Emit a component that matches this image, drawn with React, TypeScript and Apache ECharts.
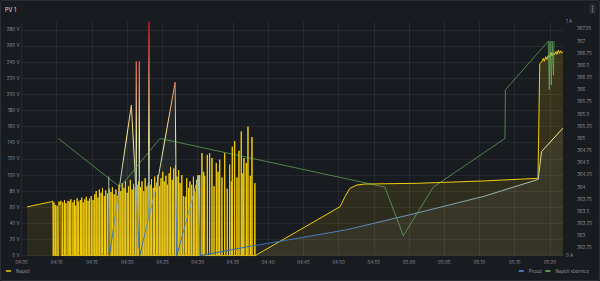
import React, { useEffect, useRef } from 'react';
import * as echarts from 'echarts';

// time in minutes since midnight (245 = 04:05)
const xTicks = [245, 250, 255, 260, 265, 270, 275, 280, 285, 290, 295, 300, 305, 310, 315, 320];
const voltTicks = [0, 20, 40, 60, 80, 100, 120, 140, 160, 180, 200, 220, 240, 260, 280];
const ampTicks = [0, 1];
const busTicks = [362.75, 363, 363.25, 363.5, 363.75, 364, 364.25, 364.5, 364.75, 365, 365.25, 365.5, 365.75, 366, 366.25, 366.5, 366.75, 367, 367.25];

const napeti: [number, number][] = [
  [245.8, 60.5], [246.6, 62], [247.4, 63.5], [248.2, 65], [248.9, 66.2], [249.3, 67], [249.45, 67.8], [249.5, 0],
  [249.57, 0], [249.6, 66], [249.63, 0], [249.77, 0], [249.8, 63], [249.83, 0], [250.02, 0], [250.05, 62], [250.08, 0],
  [250.27, 0], [250.3, 67], [250.45, 63], [250.6, 68], [250.63, 0], [250.82, 0], [250.85, 66], [250.88, 0], [251.07, 0], [251.1, 69], [251.13, 0],
  [251.27, 0], [251.3, 65], [251.33, 0], [251.57, 0], [251.6, 68], [251.63, 0], [251.77, 0], [251.8, 67], [251.83, 0], [251.97, 0], [252.0, 70], [252.03, 0],
  [252.27, 0], [252.3, 66], [252.33, 0], [252.47, 0], [252.5, 69], [252.53, 0], [252.67, 0], [252.7, 62], [252.73, 0], [252.87, 0], [252.9, 71], [252.93, 0],
  [253.07, 0], [253.1, 67], [253.13, 0], [253.32, 0], [253.35, 69], [253.38, 0], [253.52, 0], [253.55, 72], [253.58, 0], [253.72, 0], [253.75, 66], [253.78, 0],
  [253.97, 0], [254.0, 70], [254.03, 0], [254.17, 0], [254.2, 73], [254.23, 0], [254.42, 0], [254.45, 68], [254.48, 0], [254.62, 0], [254.65, 71], [254.68, 0],
  [254.87, 0], [254.9, 74], [254.93, 0], [255.12, 0], [255.15, 69], [255.18, 0],
  [255.37, 0], [255.4, 76], [255.43, 0], [255.57, 0], [255.6, 80], [255.63, 0], [255.82, 0], [255.85, 72], [255.88, 0], [256.02, 0], [256.05, 82], [256.08, 0],
  [256.27, 0], [256.3, 78], [256.33, 0], [256.47, 0], [256.5, 84], [256.53, 0], [256.72, 0], [256.75, 74], [256.78, 0], [256.92, 0], [256.95, 81], [256.98, 0],
  [257.17, 0], [257.2, 77], [257.23, 0], [257.42, 0], [257.45, 83], [257.48, 0], [257.67, 0], [257.7, 79], [257.73, 0], [257.87, 0], [257.9, 85], [257.93, 0],
  [258.12, 0], [258.15, 76], [258.18, 0], [258.37, 0], [258.4, 82], [258.43, 0], [258.57, 0], [258.6, 74], [258.63, 0],
  [258.82, 0], [258.85, 88], [258.88, 0], [259.07, 0], [259.1, 80], [259.13, 0], [259.27, 0], [259.3, 90], [259.33, 0], [259.52, 0], [259.55, 84], [259.58, 0],
  [259.72, 0], [259.75, 92], [259.78, 0], [259.97, 0], [260.0, 78], [260.03, 0], [260.17, 0], [260.2, 86], [260.23, 0], [260.42, 0], [260.45, 94], [260.48, 0],
  [260.67, 0], [260.7, 82], [260.73, 0], [260.87, 0], [260.9, 89], [260.93, 0], [261.12, 0], [261.15, 85], [261.18, 0], [261.37, 0], [261.4, 88], [261.43, 0],
  [261.57, 0], [261.6, 92], [261.63, 0], [261.87, 0], [261.9, 85], [261.93, 0], [262.07, 0], [262.1, 92], [262.13, 0], [262.32, 0], [262.35, 80], [262.38, 0],
  [262.52, 0], [262.55, 96], [262.58, 0], [262.77, 0], [262.8, 86], [262.83, 0], [262.97, 0], [263.0, 90], [263.03, 0],
  [263.22, 0], [263.25, 88], [263.28, 0], [263.42, 0], [263.45, 95], [263.48, 0], [263.67, 0], [263.7, 84], [263.73, 0], [263.87, 0], [263.9, 98], [263.93, 0],
  [264.12, 0], [264.15, 90], [264.18, 0], [264.32, 0], [264.35, 100], [264.38, 0], [264.57, 0], [264.6, 86], [264.63, 0], [264.77, 0], [264.8, 96], [264.83, 0],
  [265.02, 0], [265.05, 104], [265.08, 0], [265.22, 0], [265.25, 92], [265.28, 0], [265.47, 0], [265.5, 99], [265.53, 0], [265.67, 0], [265.7, 88], [265.73, 0],
  [265.92, 0], [265.95, 102], [265.98, 0], [266.12, 0], [266.15, 110], [266.18, 0], [266.37, 0], [266.4, 94], [266.43, 0], [266.57, 0], [266.6, 108], [266.63, 0],
  [266.82, 0], [266.85, 112], [266.88, 0], [267.02, 0], [267.05, 98], [267.08, 0], [267.27, 0], [267.3, 106], [267.33, 0], [267.47, 0], [267.5, 90], [267.53, 0],
  [267.72, 0], [267.75, 100], [267.78, 0], [267.97, 0], [268.0, 74], [268.03, 0], [268.22, 0], [268.25, 73], [268.28, 0], [268.42, 0], [268.45, 96], [268.48, 0],
  [268.67, 0], [268.7, 84], [268.73, 0], [268.87, 0], [268.9, 92], [268.93, 0], [269.12, 0], [269.15, 88], [269.18, 0], [269.37, 0], [269.4, 98], [269.43, 0],
  [269.57, 0], [269.6, 80], [269.63, 0], [269.82, 0], [269.85, 94], [269.88, 0], [270.02, 0], [270.05, 100], [270.08, 0],
  [270.26, 0], [270.29, 100], [270.32, 0], [270.58, 0], [270.61, 127], [270.64, 0], [270.83, 0], [270.86, 104], [270.89, 0], [270.97, 0], [271.0, 99], [271.03, 0],
  [271.34, 0], [271.37, 125], [271.4, 0], [271.67, 0], [271.7, 127], [271.73, 0], [272.0, 0], [272.03, 121], [272.06, 0], [272.29, 0], [272.32, 86], [272.35, 0],
  [272.62, 0], [272.65, 115], [272.68, 0], [272.87, 0], [272.9, 104], [272.93, 0], [273.1, 0], [273.13, 119], [273.16, 0], [273.42, 0], [273.45, 97], [273.48, 0],
  [273.81, 0], [273.84, 127], [273.87, 0], [274.17, 0], [274.2, 83], [274.23, 0], [274.51, 0], [274.54, 113], [274.57, 0], [274.75, 0], [274.78, 92], [274.81, 0],
  [274.89, 0], [274.92, 135], [274.95, 0], [275.22, 0], [275.25, 142], [275.28, 0], [275.55, 0], [275.58, 97], [275.61, 0], [275.83, 0], [275.86, 130], [275.89, 0],
  [276.16, 0], [276.19, 154], [276.22, 0], [276.39, 0], [276.42, 102], [276.45, 0], [276.54, 0], [276.57, 121], [276.6, 0], [276.87, 0], [276.9, 115], [276.93, 0],
  [277.11, 0], [277.14, 160], [277.17, 0], [277.44, 0], [277.47, 99], [277.5, 0], [277.68, 0], [277.71, 147], [277.74, 0], [278.09, 0], [278.12, 90], [278.15, 0],
  [290.2, 60.7], [290.9, 73], [291.6, 83.5], [292.6, 87.6], [293.7, 88.8], [301.1, 89.7], [310.5, 92.6], [318.3, 95.9],
  [318.55, 238], [318.82, 240], [319.05, 244.6], [319.2, 241], [319.4, 246.6], [319.55, 243], [319.76, 248], [319.9, 246], [320.0, 248.7], [320.15, 252],
  [320.3, 247.5], [320.5, 251.5], [320.65, 249], [320.85, 253], [321.0, 249.5], [321.18, 254.9], [321.35, 250.8], [321.5, 254], [321.66, 251], [321.84, 253],
];

const proud: [number, number][] = [
  [257.38, 0.338], [257.48, 0], [260.59, 0.644], [261.27, 0.27], [261.29, 0.83], [261.31, 0.26], [261.7, 0.03], [261.72, 0.83], [261.74, 0.02], [261.77, 0],
  [263.05, 0.16], [263.09, 1.0], [263.13, 0.17], [264.43, 0.338], [266.8, 0.741], [267.04, 0], [270.1, 0.338], [270.33, 0],
  [277.4, 0.04], [284.5, 0.076], [291.15, 0.111], [301.08, 0.182], [310.53, 0.253], [318.34, 0.326], [318.8, 0.445], [321.84, 0.545],
];

const sbernice: [number, number][] = [
  [250.22, 365], [258.98, 364], [264.65, 365], [296.58, 364], [299.18, 363], [303.44, 364], [313.61, 365], [313.68, 366], [319.76, 367],
  [319.9, 366], [320.0, 367], [320.2, 366.1], [320.3, 367], [320.5, 366.3], [320.58, 367],
];

const labelColor = 'rgba(204,204,220,0.68)';
const gridColor = 'rgba(204,204,220,0.08)';
const FONT = 'Inter, "Noto Sans", sans-serif';
const YELLOW = '#F2CC0C';

function fmtTime(m: number): string {
  const h = Math.floor(m / 60);
  const mm = Math.round(m - h * 60);
  return String(h).padStart(2, '0') + ':' + String(mm).padStart(2, '0');
}

export default function App() {
  const ref = useRef<HTMLDivElement>(null);
  useEffect(() => {
    if (!ref.current) return;
    const chart = echarts.init(ref.current, undefined, { renderer: 'svg' });
    chart.setOption({
      animation: false,
      backgroundColor: '#181b1f',
      textStyle: { fontFamily: FONT },
      title: {
        text: 'PV 1', left: 5, top: 7, padding: 0,
        textStyle: { color: '#ccccdc', fontSize: 5.5, fontWeight: 500, fontFamily: FONT },
      },
      grid: { left: 21.5, right: 37, top: 21.7, bottom: 25.3, containLabel: false },
      xAxis: {
        type: 'value', min: 245, max: 321.85,
        axisLine: { show: false },
        axisTick: { show: false, customValues: xTicks },
        axisLabel: { customValues: xTicks, formatter: fmtTime, color: labelColor, fontSize: 4.5, margin: 4, fontFamily: FONT },
        splitLine: { show: true, lineStyle: { color: gridColor, width: 1 } },
      },
      yAxis: [
        {
          type: 'value', position: 'left', min: 0, max: 290,
          axisLine: { show: false },
          axisTick: { show: false, customValues: voltTicks },
          axisLabel: { customValues: voltTicks, formatter: (v: number) => v + ' V', color: labelColor, fontSize: 4.5, margin: 2, fontFamily: FONT },
          splitLine: { show: true, lineStyle: { color: gridColor, width: 1 } },
        },
        {
          type: 'value', position: 'right', min: 0, max: 1, offset: 0,
          axisLine: { show: false },
          axisTick: { show: false, customValues: ampTicks },
          axisLabel: { customValues: ampTicks, formatter: (v: number) => v + ' A', color: labelColor, fontSize: 4.5, margin: 3, fontFamily: FONT },
          splitLine: { show: false },
        },
        {
          type: 'value', position: 'right', min: 362.59, max: 367.4, offset: 12,
          axisLine: { show: false },
          axisTick: { show: false, customValues: busTicks },
          axisLabel: { customValues: busTicks, formatter: (v: number) => String(v), color: labelColor, fontSize: 4.5, margin: 2, fontFamily: FONT },
          splitLine: { show: false },
        },
      ],
      visualMap: [
        {
          type: 'continuous', show: false, seriesIndex: 1, dimension: 1, min: 0, max: 1,
          inRange: { color: ['#1F60C4', '#FFF899', '#C4162A'] },
        },
      ],
      legend: [
        {
          left: 6, top: 268.5, padding: 0, icon: 'rect', itemWidth: 5, itemHeight: 1.5, itemGap: 4, selectedMode: false,
          textStyle: { color: labelColor, fontSize: 4.5, fontFamily: FONT },
          data: [{ name: 'Napětí', itemStyle: { color: YELLOW } }],
        },
        {
          right: 11, top: 268.5, padding: 0, icon: 'rect', itemWidth: 5, itemHeight: 1.5, itemGap: 4, selectedMode: false,
          textStyle: { color: labelColor, fontSize: 4.5, fontFamily: FONT },
          data: [
            { name: 'Proud', itemStyle: { color: '#5794F2' } },
            { name: 'Napětí sběrnice', itemStyle: { color: '#73BF69' } },
          ],
        },
      ],
      graphic: [
        { type: 'rect', silent: true, shape: { x: 0.5, y: 0.5, width: 599, height: 280, r: 2 }, style: { fill: 'none', stroke: 'rgba(204,204,220,0.1)', lineWidth: 1 } },
        { type: 'rect', silent: true, shape: { x: 589.5, y: 4, width: 6, height: 10, r: 1 }, style: { fill: 'rgba(204,204,220,0.1)' } },
        { type: 'circle', silent: true, shape: { cx: 592.5, cy: 6.6, r: 0.55 }, style: { fill: '#a0a0aa' } },
        { type: 'circle', silent: true, shape: { cx: 592.5, cy: 9, r: 0.55 }, style: { fill: '#a0a0aa' } },
        { type: 'circle', silent: true, shape: { cx: 592.5, cy: 11.4, r: 0.55 }, style: { fill: '#a0a0aa' } },
      ],
      series: [
        {
          name: 'Napětí', type: 'line', yAxisIndex: 0, data: napeti, symbol: 'none', showSymbol: false, z: 2,
          itemStyle: { color: YELLOW },
          lineStyle: { width: 1, color: YELLOW },
          areaStyle: {
            color: new echarts.graphic.LinearGradient(0, 0, 0, 1, [
              { offset: 0, color: 'rgba(242,204,12,0.16)' },
              { offset: 1, color: 'rgba(242,204,12,0.08)' },
            ]),
            opacity: 1,
          },
        },
        {
          name: 'Proud', type: 'line', yAxisIndex: 1, data: proud, symbol: 'none', showSymbol: false, z: 3,
          itemStyle: { color: '#5794F2' },
          lineStyle: { width: 1 },
          areaStyle: { color: 'rgba(200,205,190,0.07)', opacity: 1 },
        },
        {
          name: 'Napětí sběrnice', type: 'line', yAxisIndex: 2, data: sbernice, symbol: 'none', showSymbol: false, z: 4,
          itemStyle: { color: '#73BF69' },
          lineStyle: { width: 0.8, color: '#73BF69', opacity: 0.8 },
        },
      ],
    });
    return () => chart.dispose();
  }, []);
  return <div ref={ref} style={{ position: 'fixed', left: 0, top: 0, width: 600, height: 281 }} />;
}
